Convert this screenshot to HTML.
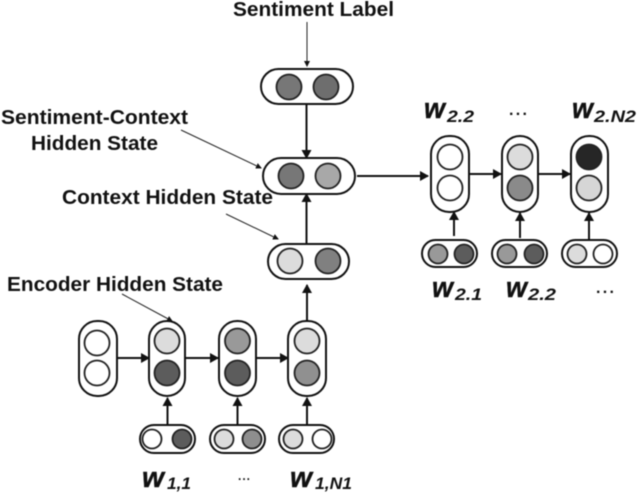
<!DOCTYPE html>
<html><head><meta charset="utf-8"><style>
html,body{margin:0;padding:0;background:#fff;width:640px;height:493px;overflow:hidden}
svg{display:block;filter:blur(.45px)}
text{font-family:"Liberation Sans",sans-serif;font-weight:bold;fill:#111}
.l{font-size:20.5px}
.w{font-size:29px;font-style:italic;stroke:#111;stroke-width:.4}
.s{font-size:17px;font-style:italic}
.p{fill:#fff;stroke:#111;stroke-width:2}
.c{stroke:#222;stroke-width:1.8}
.a{stroke:#111;stroke-width:2;fill:none}
.t{stroke:#222;stroke-width:1;fill:none}
</style></head><body>
<svg width="640" height="493" viewBox="0 0 640 493" xmlns="http://www.w3.org/2000/svg">
<defs>
<marker id="m" markerUnits="userSpaceOnUse" markerWidth="10" markerHeight="10" refX="8" refY="5" orient="auto"><path d="M0 0L9 5L0 10Z" fill="#111"/></marker>
<marker id="n" markerUnits="userSpaceOnUse" markerWidth="6" markerHeight="6" refX="5" refY="3" orient="auto"><path d="M0 0L6 3L0 6Z" fill="#111"/></marker>
</defs>

<!-- thin callouts -->
<line class="t" x1="307" y1="22" x2="307" y2="66" marker-end="url(#n)"/>
<line class="t" x1="181" y1="130" x2="261" y2="168" marker-end="url(#n)"/>
<line class="t" x1="226" y1="214" x2="278" y2="239" marker-end="url(#n)"/>
<line class="t" x1="122" y1="294" x2="172" y2="321" marker-end="url(#n)"/>

<!-- thick arrows -->
<line class="a" x1="306.500" y1="104" x2="306.500" y2="158" marker-end="url(#m)"/>
<line class="a" x1="306.500" y1="244" x2="306.500" y2="194" marker-end="url(#m)"/>
<line class="a" x1="307" y1="321" x2="307" y2="285" marker-end="url(#m)"/>
<line class="a" x1="357" y1="176" x2="428" y2="176" marker-end="url(#m)"/>
<line class="a" x1="469" y1="174" x2="501" y2="174" marker-end="url(#m)"/>
<line class="a" x1="538" y1="174" x2="570" y2="174" marker-end="url(#m)"/>
<line class="a" x1="117" y1="358" x2="149" y2="358" marker-end="url(#m)"/>
<line class="a" x1="185" y1="358" x2="218" y2="358" marker-end="url(#m)"/>
<line class="a" x1="256" y1="358" x2="288" y2="358" marker-end="url(#m)"/>
<line class="a" x1="167.500" y1="424" x2="167.500" y2="398" marker-end="url(#m)"/>
<line class="a" x1="237.500" y1="425" x2="237.500" y2="398" marker-end="url(#m)"/>
<line class="a" x1="307" y1="425" x2="307" y2="398" marker-end="url(#m)"/>
<line class="a" x1="454" y1="236" x2="454" y2="212" marker-end="url(#m)"/>
<line class="a" x1="520" y1="238" x2="520" y2="213" marker-end="url(#m)"/>
<line class="a" x1="589" y1="240" x2="589" y2="213" marker-end="url(#m)"/>

<!-- horizontal pills -->
<rect class="p" x="261" y="69" width="92" height="35" rx="17.500"/>
<circle class="c" cx="289" cy="87" r="12.500" fill="#777"/><circle class="c" cx="326" cy="87" r="12.500" fill="#6e6e6e"/>
<rect class="p" x="263" y="158" width="92" height="36" rx="18"/>
<circle class="c" cx="291" cy="176" r="12.500" fill="#777"/><circle class="c" cx="328" cy="176" r="12.500" fill="#a8a8a8"/>
<rect class="p" x="268" y="244" width="81" height="35" rx="17.500"/>
<circle class="c" cx="290" cy="261" r="12.500" fill="#dcdcdc"/><circle class="c" cx="328" cy="261" r="12.500" fill="#808080"/>

<!-- encoder -->
<rect class="p" x="79" y="321" width="38" height="75" rx="18"/>
<circle class="c" cx="97" cy="343" r="12.500" fill="#fff"/><circle class="c" cx="97" cy="373" r="12.500" fill="#fff"/>
<rect class="p" x="149" y="321" width="36" height="75" rx="18"/>
<circle class="c" cx="167" cy="341" r="12.500" fill="#dcdcdc"/><circle class="c" cx="167" cy="373" r="12.500" fill="#5c5c5c"/>
<rect class="p" x="219" y="321" width="37" height="75" rx="18"/>
<circle class="c" cx="237.500" cy="341" r="12.500" fill="#999"/><circle class="c" cx="237.500" cy="373" r="12.500" fill="#5c5c5c"/>
<rect class="p" x="288" y="321" width="38" height="75" rx="18"/>
<circle class="c" cx="307" cy="341" r="12.500" fill="#dcdcdc"/><circle class="c" cx="307" cy="373" r="12.500" fill="#909090"/>

<rect class="p" x="140" y="425" width="55" height="28" rx="14"/>
<circle class="c" cx="152" cy="439" r="9.500" fill="#fff"/><circle class="c" cx="182" cy="439" r="9.500" fill="#5c5c5c"/>
<rect class="p" x="210" y="425" width="55" height="28" rx="14"/>
<circle class="c" cx="224" cy="439" r="9.500" fill="#dcdcdc"/><circle class="c" cx="252" cy="439" r="9.500" fill="#8e8e8e"/>
<rect class="p" x="279" y="425" width="55" height="28" rx="14"/>
<circle class="c" cx="293" cy="439" r="9.500" fill="#dcdcdc"/><circle class="c" cx="322" cy="439" r="9.500" fill="#fff"/>

<!-- decoder -->
<rect class="p" x="431" y="136" width="38" height="76" rx="18"/>
<circle class="c" cx="450" cy="157" r="12.500" fill="#fff"/><circle class="c" cx="450" cy="188" r="12.500" fill="#fff"/>
<rect class="p" x="502" y="136" width="36" height="76" rx="18"/>
<circle class="c" cx="520" cy="157" r="12.500" fill="#dcdcdc"/><circle class="c" cx="520" cy="188" r="12.500" fill="#8a8a8a"/>
<rect class="p" x="571" y="136" width="37" height="76" rx="18"/>
<circle class="c" cx="589" cy="157" r="12.500" fill="#262626"/><circle class="c" cx="589" cy="188" r="12.500" fill="#d6d6d6"/>

<rect class="p" x="422" y="240" width="55" height="27" rx="13.500"/>
<circle class="c" cx="438" cy="254" r="9.500" fill="#999"/><circle class="c" cx="464" cy="254" r="9.500" fill="#5c5c5c"/>
<rect class="p" x="492" y="240" width="55" height="27" rx="13.500"/>
<circle class="c" cx="507" cy="254" r="9.500" fill="#999"/><circle class="c" cx="534" cy="254" r="9.500" fill="#5c5c5c"/>
<rect class="p" x="562" y="240" width="55" height="27" rx="13.500"/>
<circle class="c" cx="577" cy="254" r="9.500" fill="#dcdcdc"/><circle class="c" cx="603" cy="254" r="9.500" fill="#fff"/>

<!-- labels -->
<text class="l" x="233" y="16" textLength="161" lengthAdjust="spacingAndGlyphs">Sentiment Label</text>
<text class="l" x="1" y="124" textLength="187" lengthAdjust="spacingAndGlyphs">Sentiment-Context</text>
<text class="l" x="31" y="150" textLength="127" lengthAdjust="spacingAndGlyphs">Hidden State</text>
<text class="l" x="62" y="204" textLength="211" lengthAdjust="spacingAndGlyphs">Context Hidden State</text>
<text class="l" x="7" y="291" textLength="216" lengthAdjust="spacingAndGlyphs">Encoder Hidden State</text>

<text class="w" x="424" y="118" textLength="21" lengthAdjust="spacingAndGlyphs">w</text><text class="s" x="447" y="122" textLength="27" lengthAdjust="spacingAndGlyphs">2.2</text>
<text x="509" y="115" style="font-size:16px" textLength="18">...</text>
<text class="w" x="572" y="118" textLength="21" lengthAdjust="spacingAndGlyphs">w</text><text class="s" x="594" y="122" textLength="42" lengthAdjust="spacingAndGlyphs">2.N2</text>
<text class="w" x="432" y="297" textLength="21" lengthAdjust="spacingAndGlyphs">w</text><text class="s" x="455" y="300" textLength="27" lengthAdjust="spacingAndGlyphs">2.1</text>
<text class="w" x="506" y="297" textLength="21" lengthAdjust="spacingAndGlyphs">w</text><text class="s" x="528" y="300" textLength="28" lengthAdjust="spacingAndGlyphs">2.2</text>
<text x="596" y="293" style="font-size:16px" textLength="18">...</text>
<text class="w" x="142" y="487" textLength="22" lengthAdjust="spacingAndGlyphs">w</text><text class="s" x="167" y="489" textLength="24" lengthAdjust="spacingAndGlyphs">1,1</text>
<text x="238" y="480" style="font-size:12px" textLength="12">...</text>
<text class="w" x="290" y="487" textLength="22" lengthAdjust="spacingAndGlyphs">w</text><text class="s" x="315" y="489" textLength="37" lengthAdjust="spacingAndGlyphs">1,N1</text>
</svg>
</body></html>
